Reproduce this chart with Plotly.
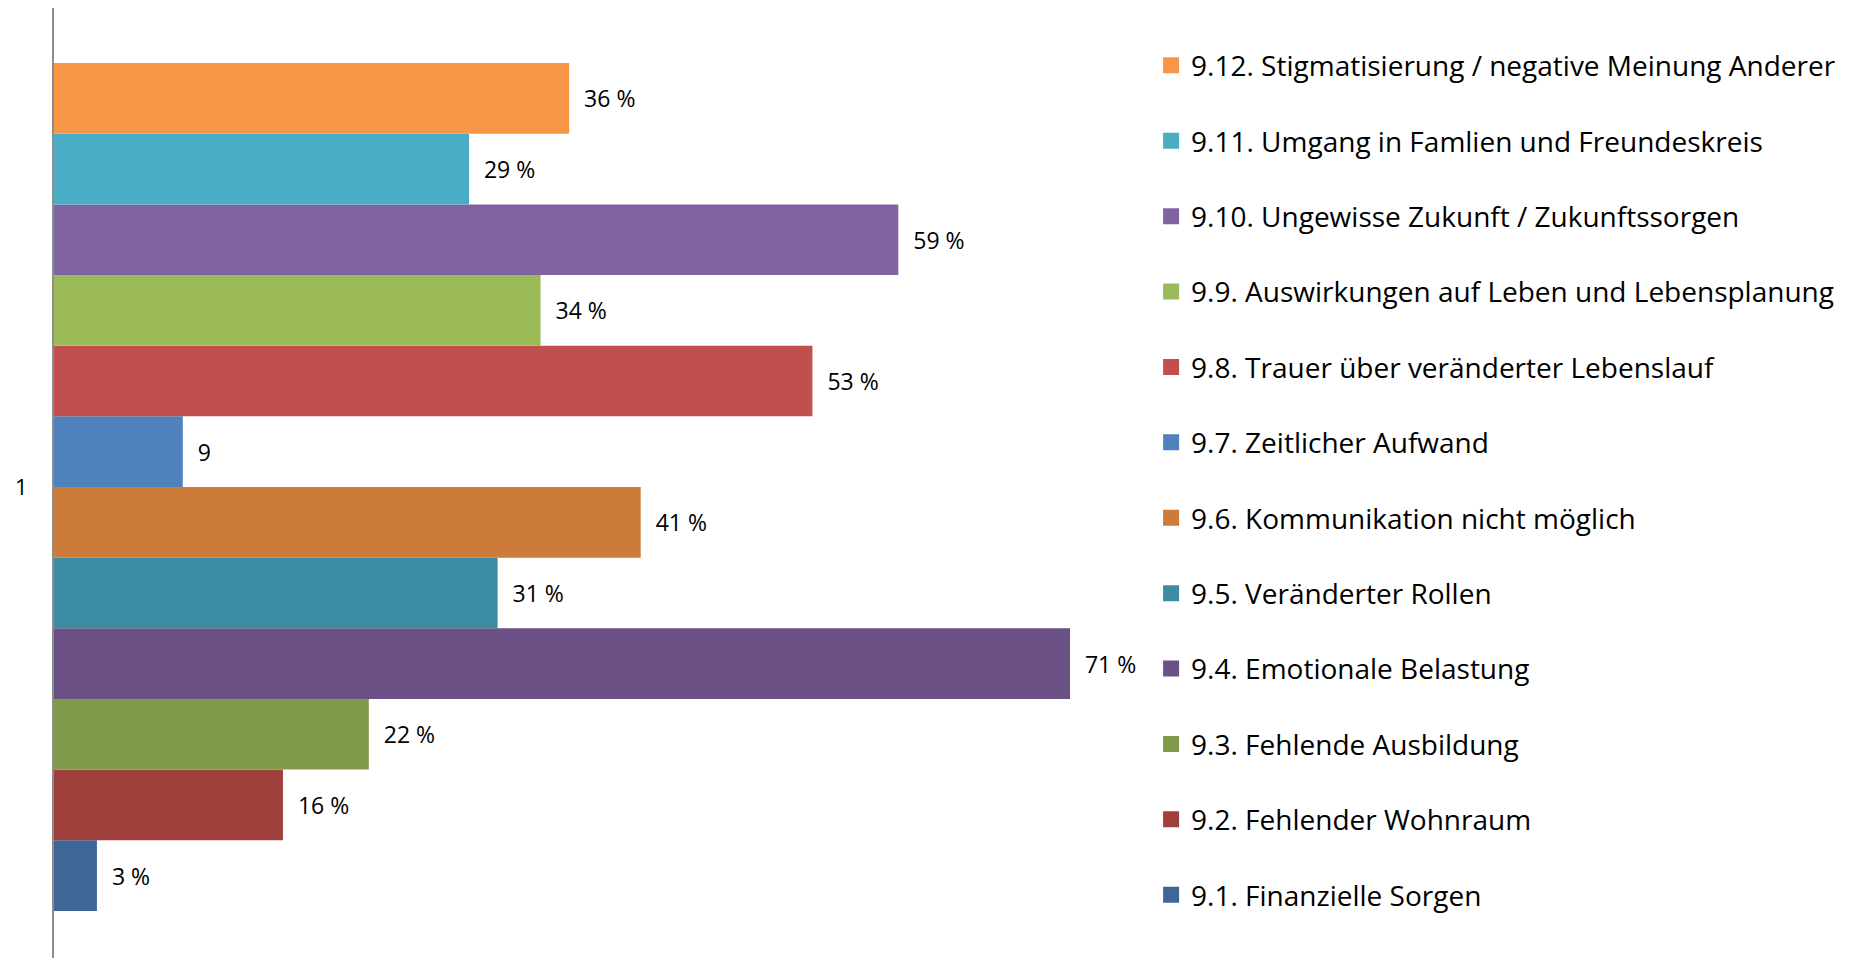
import plotly.graph_objects as go

categories = ["1"]
series_names = [
    "9.1. Finanzielle Sorgen",
    "9.2. Fehlender Wohnraum",
    "9.3. Fehlende Ausbildung",
    "9.4. Emotionale Belastung",
    "9.5. Veränderter Rollen",
    "9.6. Kommunikation nicht möglich",
    "9.7. Zeitlicher Aufwand",
    "9.8. Trauer über veränderter Lebenslauf",
    "9.9. Auswirkungen auf Leben und Lebensplanung",
    "9.10. Ungewisse Zukunft / Zukunftssorgen",
    "9.11. Umgang in Famlien und Freundeskreis",
    "9.12. Stigmatisierung / negative Meinung Anderer",
]
values = [3, 16, 22, 71, 31, 41, 9, 53, 34, 59, 29, 36]
value_labels = ["3 %", "16 %", "22 %", "71 %", "31 %", "41 %", "9",
                "53 %", "34 %", "59 %", "29 %", "36 %"]
colors = ["#3E6797", "#9E3F3C", "#7F9A48", "#6A5084", "#3C8DA3", "#CC7B38",
          "#4F81BD", "#C0504D", "#9BBB59", "#8064A2", "#4BACC6", "#F79646"]

fig = go.Figure()
n = len(series_names)
for i, (name, val, lab, col) in enumerate(zip(series_names, values, value_labels, colors)):
    fig.add_trace(go.Bar(
        y=categories,
        x=[val],
        orientation='h',
        name=name,
        legendgroup=name,
        showlegend=False,
        marker=dict(color=col, line=dict(width=0)),
        text=["\u00a0\u00a0" + lab],
        textposition='outside',
        constraintext='none',
        cliponaxis=False,
        textfont=dict(family="Open Sans", size=23, color="#000000"),
    ))
    # legend entry with a bigger square swatch
    fig.add_trace(go.Scatter(
        x=[None], y=[None],
        mode='markers',
        name=name,
        legendgroup=name,
        legendrank=n - i,
        marker=dict(symbol='square', size=16, color=col, line=dict(width=0)),
        hoverinfo='skip',
    ))

fig.update_layout(
    width=1854,
    height=958,
    barmode='group',
    bargap=0.115,
    bargroupgap=0,
    plot_bgcolor='white',
    paper_bgcolor='white',
    margin=dict(l=46, r=0, t=0, b=0),
    font=dict(family="Open Sans", color="#000000"),
    showlegend=True,
    legend=dict(
        traceorder='grouped',
        x=0.6068, xanchor='left',
        y=0.9659, yanchor='top',
        font=dict(family="Open Sans", size=28, color="#000000"),
        tracegroupgap=36,
        itemwidth=30,
        bgcolor='rgba(0,0,0,0)',
    ),
)

fig.update_xaxes(
    domain=[0, 0.6],
    range=[0, 1808 * 0.6 / 14.31],
    showgrid=False,
    zeroline=False,
    showticklabels=False,
    showline=False,
)
fig.update_yaxes(
    type='category',
    range=[-0.5, 0.5],
    automargin=False,
    showgrid=False,
    showline=True,
    linecolor='#8c8c8c',
    linewidth=2,
    ticks='',
    ticklabelstandoff=20,
    tickfont=dict(family="Open Sans", size=22, color="#000000"),
)

fig.write_html("out.html")
